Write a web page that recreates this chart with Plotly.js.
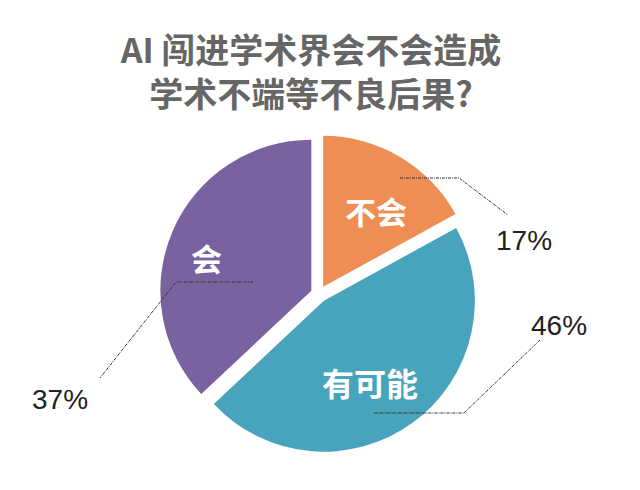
<!DOCTYPE html>
<html>
<head>
<meta charset="utf-8">
<script src="https://cdn.plot.ly/plotly-3.0.1.min.js"></script>
<style>html,body{margin:0;padding:0;background:#fff;}#chart{width:640px;height:490px;}</style>
</head>
<body>
<div id="chart"></div>
<script>
// Data
const categories = ['不会', '有可能', '会'];
const values = [17, 46, 37];
const colors = ['#EF8E54', '#48A4BC', '#7A619F'];
const titleLines = ['AI 闯进学术界会不会造成', '学术不端等不良后果?'];

const W = 640, H = 490;
const px = (x) => x / W;
const py = (y) => 1 - y / H;

// label placements (pixel positions in the figure)
const insidePos = [[376, 210], [370, 382], [206, 257]];
const insideSize = [31, 32, 31];
const pctPos = [[524, 240], [559, 325], [60, 399]];
const leaders = [
  [[400, 178], [459, 178], [508, 215]],
  [[540, 340], [464, 413], [373, 413]],
  [[253, 282], [176, 282], [100, 378]]
];

const trace = {
  type: 'pie',
  labels: categories,
  values: values,
  sort: false,
  direction: 'clockwise',
  rotation: 0,
  pull: [0.055, 0.055, 0.055],
  marker: {colors: colors, line: {width: 0}},
  textinfo: 'none',
  hoverinfo: 'none',
  showlegend: false,
  domain: {x: [0.2495, 0.7473], y: [0.0749, 0.7251]}
};

const annotations = [];
categories.forEach((c, i) => {
  annotations.push({
    xref: 'paper', yref: 'paper', x: px(insidePos[i][0]), y: py(insidePos[i][1]),
    xanchor: 'center', yanchor: 'middle', showarrow: false,
    text: '<b>' + c + '</b>',
    font: {family: '"Noto Sans CJK SC", "Noto Sans", sans-serif', size: insideSize[i], color: '#ffffff'}
  });
  annotations.push({
    xref: 'paper', yref: 'paper', x: px(pctPos[i][0]), y: py(pctPos[i][1]),
    xanchor: 'center', yanchor: 'middle', showarrow: false,
    text: values[i] + '%',
    font: {family: '"Liberation Sans", Arial, sans-serif', size: 28, color: '#222222'}
  });
});

const shapes = leaders.map(pts => ({
  type: 'path', xref: 'paper', yref: 'paper',
  path: pts.map((p, k) => (k ? 'L' : 'M') + px(p[0]) + ',' + py(p[1])).join(' '),
  line: {color: '#333333', width: 1, dash: '3px,1px,1px,1px'}
}));

const layout = {
  width: W, height: H,
  margin: {l: 0, r: 0, t: 0, b: 0, pad: 0},
  paper_bgcolor: '#ffffff',
  plot_bgcolor: '#ffffff',
  title: {
    text: '<b>' + titleLines.join('<br>') + '</b>',
    x: px(311), xanchor: 'center', xref: 'paper',
    y: 1 - 63 / H, yanchor: 'middle', yref: 'container',
    font: {family: '"Noto Sans CJK SC", sans-serif', size: 34, color: '#666666'}
  },
  annotations: annotations,
  shapes: shapes
};

Plotly.newPlot('chart', [trace], layout, {staticPlot: true, displayModeBar: false});
</script>
</body>
</html>
